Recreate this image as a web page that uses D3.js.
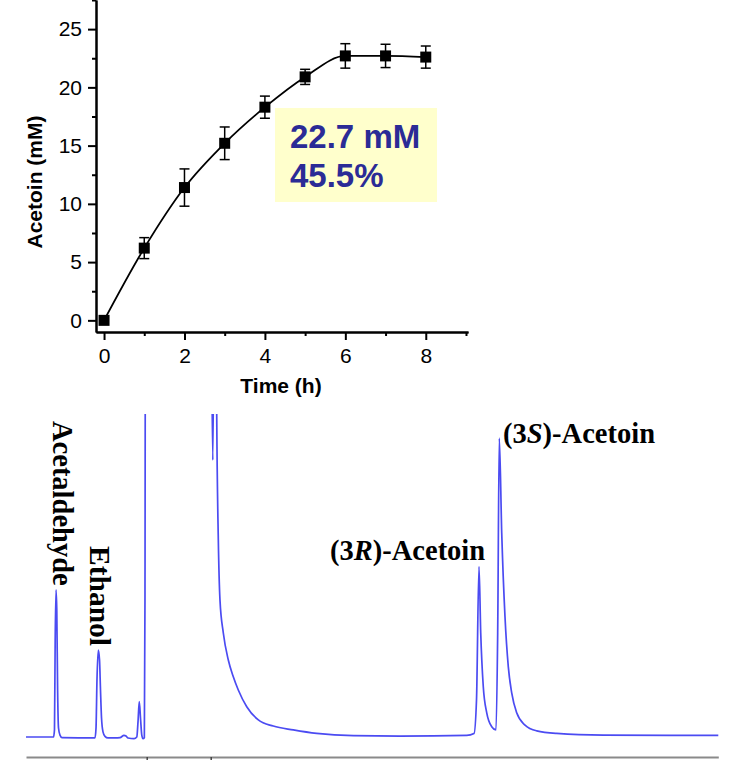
<!DOCTYPE html>
<html><head><meta charset="utf-8">
<script src="https://cdn.jsdelivr.net/npm/d3@7"></script>
<style>body{margin:0;background:#fff}svg{display:block}</style>
</head><body><svg id="c" width="742" height="765"></svg>
<script>
// ---- Top panel data ----
const times = [0, 1, 2, 3, 4, 5, 6, 7, 8];
const acetoin = [0, 6.2, 11.4, 15.2, 18.3, 20.9, 22.7, 22.7, 22.6];
const errors = [0, 0.9, 1.6, 1.4, 0.95, 0.65, 1.05, 1.0, 0.95];
const xTicks = [0, 2, 4, 6, 8];
const xMinorTicks = [1, 3, 5, 7, 9];
const yTicks = [0, 5, 10, 15, 20, 25];
const yMinorTicks = [2.5, 7.5, 12.5, 17.5, 22.5, 27.5];
const annotationLines = ["22.7 mM", "45.5%"];

// ---- Chromatogram data (retention time, signal) ----
const chromTime = [3.114,3.544,3.559,3.570,3.583,3.595,3.608,3.622,3.645,3.677,
  4.192,4.208,4.223,4.244,4.263,4.278,4.294,4.317,4.348,4.395,
  4.505,4.583,4.645,4.677,4.708,4.802,4.845,4.864,4.884,4.903,
  4.923,4.942,4.963,4.973,4.981,5.997,6.033,6.059,6.080,6.094,
  6.119,6.145,6.197,6.275,6.353,6.431,6.563,6.744,6.978,7.291,
  7.656,8.228,8.958,10.000,10.114,10.153,10.192,10.219,10.259,10.313,
  10.391,10.458,10.484,10.509,10.547,10.598,10.650,10.703,10.781,10.911,
  11.094,11.406,12.134,13.931];
const chromSignal = [0,0,2.2,30.1,45.7,39.4,14.6,2.8,0.6,-0.2,
  -0.3,2.8,17.7,27.0,23.9,14.6,5.9,1.6,0.2,-0.3,
  -0.3,-0.2,0.5,0.3,-0.3,-0.5,0,4.7,11.0,5.9,
  0.6,-0.5,-0.2,42.5,150,150,86.0,150,150,100,
  61.2,42.5,32.3,23.9,18.7,14.6,9.4,5.3,3.4,2.2,
  1.1,0.4,0.3,0.5,1.1,11.5,52.9,32.3,15.6,7.5,
  3.2,2.2,32.3,92.8,63.4,37.4,21.8,13.7,7.5,3.7,
  1.9,1.1,0.6,0.5];
const chromTicks = [5, 6];

const svg = d3.select("#c");
const sans = "'Liberation Sans', Arial, Helvetica, sans-serif";
const serif = "'Liberation Serif', 'Times New Roman', Times, serif";

// ================= TOP PANEL =================
const x = d3.scaleLinear([-0.2, 9.05], [96, 468]);
const y = d3.scaleLinear([-1, 27.5], [332, 0]);

const panel = svg.append("g");

// annotation box
panel.append("rect").attr("x", 275).attr("y", 108).attr("width", 162).attr("height", 94)
  .attr("fill", "#ffffcc");
panel.selectAll("text.ann").data(annotationLines).join("text").attr("class", "ann")
  .attr("x", 290).attr("y", (d, i) => 147.5 + i * 39)
  .attr("font-family", sans).attr("font-weight", "bold").attr("font-size", 33)
  .attr("fill", "#2b2b96").text(d => d);

function styleAxis(g) {
  g.select(".domain").attr("stroke", "#000").attr("stroke-width", 2);
  g.selectAll(".tick line").attr("stroke", "#000").attr("stroke-width", 2);
  g.selectAll(".tick text").attr("font-family", sans).attr("font-size", 21).attr("fill", "#000");
}

// x axis
panel.append("g").attr("transform", "translate(0,332)")
  .call(d3.axisBottom(x).tickValues(xMinorTicks).tickSize(4).tickSizeOuter(0).tickFormat(""))
  .call(styleAxis);
panel.append("g").attr("transform", "translate(0,332)")
  .call(d3.axisBottom(x).tickValues(xTicks).tickSize(8).tickSizeOuter(0).tickPadding(8).tickFormat(d3.format("d")))
  .call(styleAxis);
// y axis
panel.append("g").attr("transform", "translate(96,0)")
  .call(d3.axisLeft(y).tickValues(yMinorTicks).tickSize(4).tickSizeOuter(0).tickFormat(""))
  .call(styleAxis);
panel.append("g").attr("transform", "translate(96,0)")
  .call(d3.axisLeft(y).tickValues(yTicks).tickSize(8).tickSizeOuter(0).tickPadding(6).tickFormat(d3.format("d")))
  .call(styleAxis);

// axis titles
panel.append("text").attr("x", 281).attr("y", 393).attr("text-anchor", "middle")
  .attr("font-family", sans).attr("font-weight", "bold").attr("font-size", 21).text("Time (h)");
panel.append("text").attr("transform", "translate(42,182) rotate(-90)").attr("text-anchor", "middle")
  .attr("font-family", sans).attr("font-weight", "bold").attr("font-size", 21).text("Acetoin (mM)");

const pts = times.map((t, i) => ({t, v: acetoin[i], e: errors[i]}));

// fitted curve
panel.append("path").datum(pts)
  .attr("d", d3.line().x(d => x(d.t)).y(d => y(d.v)).curve(d3.curveMonotoneX))
  .attr("fill", "none").attr("stroke", "#000").attr("stroke-width", 1.8);

// error bars
const eb = panel.append("g").attr("stroke", "#000").attr("stroke-width", 1.5);
pts.filter(d => d.e > 0).forEach(d => {
  eb.append("line").attr("x1", x(d.t)).attr("x2", x(d.t)).attr("y1", y(d.v - d.e)).attr("y2", y(d.v + d.e));
  eb.append("line").attr("x1", x(d.t) - 5).attr("x2", x(d.t) + 5).attr("y1", y(d.v + d.e)).attr("y2", y(d.v + d.e));
  eb.append("line").attr("x1", x(d.t) - 5).attr("x2", x(d.t) + 5).attr("y1", y(d.v - d.e)).attr("y2", y(d.v - d.e));
});

// markers
const ms = 11;
panel.selectAll("rect.m").data(pts).join("rect").attr("class", "m")
  .attr("x", d => x(d.t) - ms / 2).attr("y", d => y(d.v) - ms / 2)
  .attr("width", ms).attr("height", ms).attr("fill", "#000");

// ================= CHROMATOGRAM =================
const cx = d3.scaleLinear([3.114, 13.931], [26, 718.3]);
const cy = d3.scaleLinear([0, 100], [737, 415]);

svg.append("defs").append("clipPath").attr("id", "chromClip")
  .append("rect").attr("x", 0).attr("y", 414).attr("width", 742).attr("height", 351);

const chromAxis = svg.append("g").attr("transform", "translate(0,757)")
  .call(d3.axisBottom(cx).tickValues(chromTicks).tickSize(3).tickSizeOuter(0).tickFormat(""));
chromAxis.select(".domain").attr("stroke", "#8a8a8a").attr("stroke-width", 2);
chromAxis.selectAll(".tick line").attr("stroke", "#444").attr("stroke-width", 1.5);

const chromPts = chromTime.map((t, i) => [t, chromSignal[i]]);
svg.append("path").datum(chromPts).attr("clip-path", "url(#chromClip)")
  .attr("d", d3.line().x(d => cx(d[0])).y(d => cy(d[1])).curve(d3.curveMonotoneX))
  .attr("fill", "none").attr("stroke", "#4b4bf2").attr("stroke-width", 1.7)
  .attr("stroke-linejoin", "round");

// peak labels
const lab = svg.append("g").attr("font-family", serif).attr("font-weight", "bold")
  .attr("font-size", 28.5).attr("fill", "#000");
lab.append("text").attr("transform", "translate(53,421) rotate(90)").text("Acetaldehyde");
lab.append("text").attr("transform", "translate(90,546) rotate(90)").attr("font-size", 29.5).text("Ethanol");
const r = lab.append("text").attr("x", 330).attr("y", 560);
r.append("tspan").text("(3");
r.append("tspan").attr("font-style", "italic").text("R");
r.append("tspan").text(")-Acetoin");
const s = lab.append("text").attr("x", 503).attr("y", 443);
s.append("tspan").text("(3");
s.append("tspan").attr("font-style", "italic").text("S");
s.append("tspan").text(")-Acetoin");
</script></body></html>
